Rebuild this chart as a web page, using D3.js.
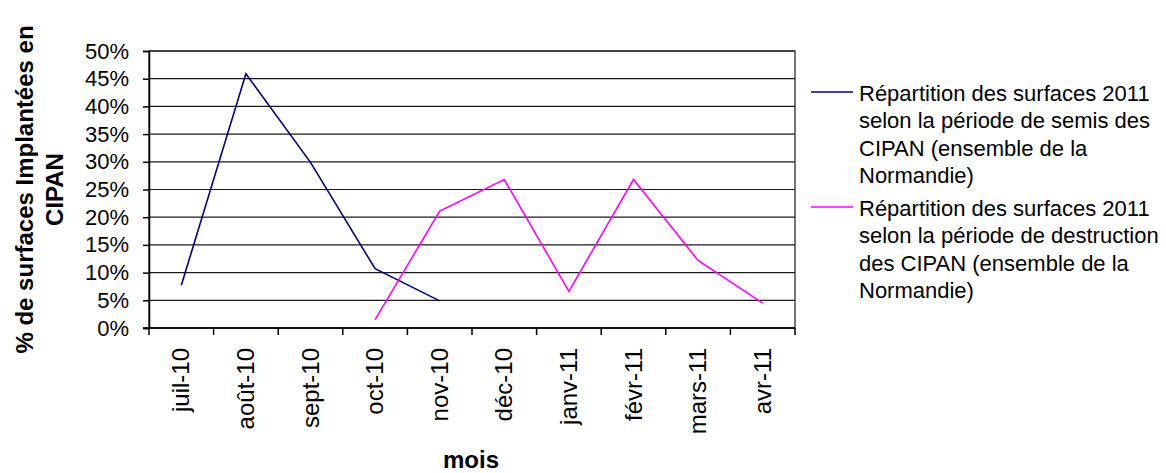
<!DOCTYPE html>
<html>
<head>
<meta charset="utf-8">
<script src="https://cdn.jsdelivr.net/npm/d3@7"></script>
<style>
  html, body { margin: 0; padding: 0; background: #fff; }
  svg { display: block; font-family: "Liberation Sans", Arial, sans-serif; }
</style>
</head>
<body>
<svg id="chart" width="1166" height="473"></svg>
<script>
const months = ["juil-10", "août-10", "sept-10", "oct-10", "nov-10", "déc-10", "janv-11", "févr-11", "mars-11", "avr-11"];
const semis = [7.7, 45.9, 29.9, 10.7, 4.9, null, null, null, null, null];
const destruction = [null, null, null, 1.5, 21.1, 26.8, 6.6, 26.8, 12.2, 4.5];
const yTicks = [0, 5, 10, 15, 20, 25, 30, 35, 40, 45, 50];
const seriesNames = [
  ["Répartition des surfaces 2011", "selon la période de semis des", "CIPAN (ensemble de la", "Normandie)"],
  ["Répartition des surfaces 2011", "selon la période de destruction", "des CIPAN (ensemble de la", "Normandie)"]
];
const seriesColors = ["#000080", "#FF00FF"];
const yTitle = ["% de surfaces Implantées en", "CIPAN"];
const xTitle = "mois";

(function () {
const svg = d3.select("#chart");
const pLeft = 149, pRight = 795, pTop = 51, pBottom = 328;

const x = d3.scaleBand().domain(months).range([pLeft, pRight]);
const y = d3.scaleLinear().domain([0, 50]).range([pBottom, pTop]);

// gridlines
svg.append("g").selectAll("line").data(yTicks).join("line")
  .attr("x1", pLeft).attr("x2", pRight)
  .attr("y1", d => y(d)).attr("y2", d => y(d))
  .attr("stroke", "#1a1a1a").attr("stroke-width", 1.2);

// plot border
svg.append("rect").attr("x", pLeft).attr("y", pTop)
  .attr("width", pRight - pLeft).attr("height", pBottom - pTop)
  .attr("fill", "none").attr("stroke", "#1a1a1a").attr("stroke-width", 1.2);

// y axis
const yAxis = d3.axisLeft(y).tickValues(yTicks).tickFormat(d => d + "%").tickSize(6).tickPadding(14);
const gy = svg.append("g").attr("transform", `translate(${pLeft},0)`).call(yAxis);
gy.select(".domain").attr("stroke", "#000").attr("stroke-width", 1.5);
gy.selectAll(".tick line").attr("stroke", "#000").attr("stroke-width", 1.5);
gy.selectAll(".tick text").attr("font-size", 22).attr("fill", "#000")
  .attr("font-family", "Liberation Sans, Arial, sans-serif");

// x axis: ticks between categories
const bounds = months.map(m => x(m)).concat([pRight]);
const gx = svg.append("g");
gx.append("line").attr("x1", pLeft - 6).attr("x2", pRight).attr("y1", pBottom).attr("y2", pBottom)
  .attr("stroke", "#000").attr("stroke-width", 1.5);
gx.selectAll("line.tk").data(bounds).join("line").attr("class", "tk")
  .attr("x1", d => d).attr("x2", d => d).attr("y1", pBottom).attr("y2", pBottom + 7)
  .attr("stroke", "#000").attr("stroke-width", 1.5);
gx.selectAll("text").data(months).join("text")
  .attr("transform", d => `translate(${x(d) + x.bandwidth() / 2 + 8},${pBottom + 20}) rotate(-90)`)
  .attr("text-anchor", "end")
  .attr("font-size", 24).attr("fill", "#000")
  .text(d => d);

// lines
const lineGen = d3.line().defined(d => d.v != null)
  .x(d => x(d.m) + x.bandwidth() / 2).y(d => y(d.v));
[semis, destruction].forEach((s, i) => {
  svg.append("path")
    .datum(months.map((m, j) => ({ m, v: s[j] })))
    .attr("d", lineGen)
    .attr("fill", "none").attr("stroke", seriesColors[i]).attr("stroke-width", 1.6);
});

// legend
const legendTops = [92, 207];
seriesNames.forEach((lines, i) => {
  const g = svg.append("g");
  g.append("line").attr("x1", 811).attr("x2", 853)
    .attr("y1", legendTops[i]).attr("y2", legendTops[i])
    .attr("stroke", seriesColors[i]).attr("stroke-width", 1.6);
  g.selectAll("text").data(lines).join("text")
    .attr("x", 859).attr("y", (d, k) => legendTops[i] + 8.5 + k * 27.5)
    .attr("font-size", 22).attr("fill", "#000").text(d => d);
});

// axis titles
const ytg = svg.append("g").attr("transform", `translate(0,${(pTop + pBottom) / 2}) rotate(-90)`);
ytg.selectAll("text").data(yTitle).join("text")
  .attr("x", 0).attr("y", (d, k) => 33 + k * 30)
  .attr("text-anchor", "middle").attr("font-weight", "bold").attr("font-size", 24)
  .attr("fill", "#000").text(d => d);

svg.append("text").attr("x", 471).attr("y", 468)
  .attr("text-anchor", "middle").attr("font-weight", "bold").attr("font-size", 24)
  .attr("fill", "#000").text(xTitle);
})();
</script>
</body>
</html>
